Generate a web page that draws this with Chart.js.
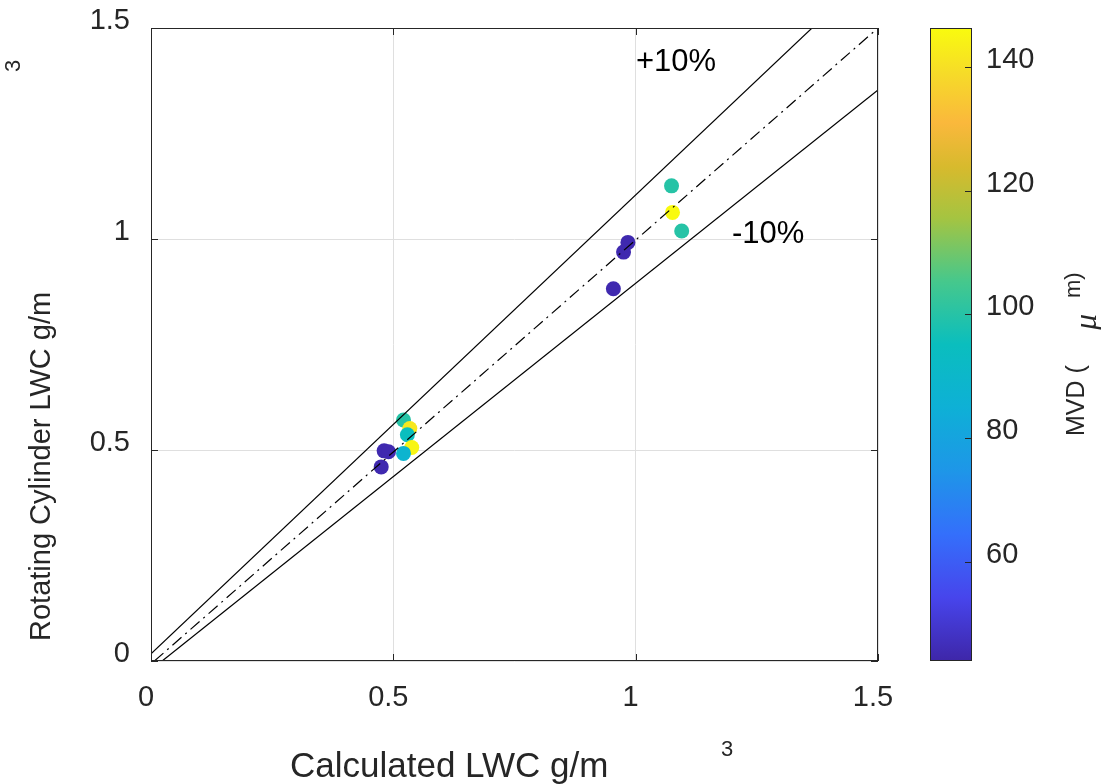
<!DOCTYPE html>
<html>
<head>
<meta charset="utf-8">
<script src="https://cdn.jsdelivr.net/npm/chart.js@4.4.0/dist/chart.umd.min.js"></script>
<style>
html, body { margin: 0; padding: 0; background: #fff; }
#wrap { width: 1101px; height: 784px; }
</style>
</head>
<body>
<div id="wrap"><canvas id="lwcChart" width="1101" height="784"></canvas></div>
<script>
const calcLwc = [0.475, 0.481, 0.490, 0.521, 0.534, 0.529, 0.538, 0.521,
                 0.954, 0.975, 0.984, 1.074, 1.076, 1.095];
const cylLwc  = [0.460, 0.498, 0.496, 0.571, 0.551, 0.536, 0.506, 0.492,
                 0.882, 0.969, 0.992, 1.126, 1.063, 1.019];
const mvd     = [45, 45, 45, 100, 142, 95, 145, 88,
                 45, 45, 45, 100, 146, 100];

// reference lines
const plusLineX  = [0, 1.5];
const plusLineY  = [0.017, 1.648];
const minusLineX = [0.023, 1.5];
const minusLineY = [0, 1.353];
const oneLineX   = [0.007, 1.5];
const oneLineY   = [0, 1.5];

const axisTicks = [0, 0.5, 1, 1.5];
const mvdTicks = [60, 80, 100, 120, 140];
const mvdMin = 44;
const mvdMax = 146.3;

// parula-ish colour stops
const parulaStops = [
    [0.00, 62, 38, 168],
    [0.10, 71, 69, 236],
    [0.20, 52, 111, 251],
    [0.30, 30, 150, 232],
    [0.40, 14, 176, 214],
    [0.50, 10, 190, 190],
    [0.60, 70, 200, 140],
    [0.70, 165, 196, 65],
    [0.78, 215, 186, 45],
    [0.85, 250, 184, 60],
    [0.93, 246, 220, 40],
    [1.00, 249, 251, 14]
];

Chart.defaults.font.family = '"Liberation Sans", Arial, sans-serif';
Chart.defaults.color = '#262626';

function parula(v) {
    let t = (v - mvdMin) / (mvdMax - mvdMin);
    t = Math.max(0, Math.min(1, t));
    for (let i = 1; i < parulaStops.length; i++) {
        const a = parulaStops[i - 1], b = parulaStops[i];
        if (t <= b[0]) {
            const f = (t - a[0]) / (b[0] - a[0]);
            const c = [1, 2, 3].map(k => Math.round(a[k] + (b[k] - a[k]) * f));
            return `rgb(${c[0]},${c[1]},${c[2]})`;
        }
    }
    return 'rgb(249,251,14)';
}

function toPoints(xs, ys) {
    return xs.map((x, i) => ({ x: x, y: ys[i] }));
}

function lineDataset(xs, ys, dash) {
    return {
        type: 'line',
        data: toPoints(xs, ys),
        showLine: true,
        borderColor: '#000',
        borderWidth: 1.2,
        borderDash: dash,
        pointRadius: 0,
        fill: false
    };
}

const keepTicks = (vals) => (scale) => {
    scale.ticks = vals.map(v => ({ value: v }));
};

// invisible tick marks are used as spacers (ticks.padding would also pad the chart area)
const spacerGrid = (len, onArea) => ({
    display: true,
    drawOnChartArea: onArea,
    color: '#dfdfdf',
    drawTicks: true,
    tickLength: len,
    tickColor: 'rgba(0,0,0,0)'
});

// box, inward ticks, colorbar and all the odd MATLAB-style labels
const decorations = {
    id: 'decorations',
    afterDraw(chart) {
        const ctx = chart.ctx;
        const a = chart.chartArea;
        const xs = chart.scales.x, ys = chart.scales.y, cb = chart.scales.cb;
        ctx.save();

        // axes box
        ctx.strokeStyle = '#262626';
        ctx.lineWidth = 1;
        ctx.strokeRect(a.left + 0.5, a.top + 0.5, a.right - a.left - 1, a.bottom - a.top - 1);

        // inward ticks
        ctx.beginPath();
        axisTicks.forEach(v => {
            const px = Math.round(xs.getPixelForValue(v)) + 0.5;
            ctx.moveTo(px, a.bottom); ctx.lineTo(px, a.bottom - 7);
            ctx.moveTo(px, a.top); ctx.lineTo(px, a.top + 7);
            const py = Math.round(ys.getPixelForValue(v)) + 0.5;
            ctx.moveTo(a.left, py); ctx.lineTo(a.left + 7, py);
            ctx.moveTo(a.right, py); ctx.lineTo(a.right - 7, py);
        });
        ctx.stroke();

        // colorbar
        const cbLeft = 930, cbRight = 972;
        const grad = ctx.createLinearGradient(0, a.bottom, 0, a.top);
        parulaStops.forEach(s => grad.addColorStop(s[0], `rgb(${s[1]},${s[2]},${s[3]})`));
        ctx.fillStyle = grad;
        ctx.fillRect(cbLeft, a.top, cbRight - cbLeft, a.bottom - a.top);
        ctx.strokeStyle = '#262626';
        ctx.strokeRect(cbLeft + 0.5, a.top + 0.5, cbRight - cbLeft - 1, a.bottom - a.top - 1);
        ctx.beginPath();
        mvdTicks.forEach(v => {
            const py = Math.round(cb.getPixelForValue(v)) + 0.5;
            ctx.moveTo(cbRight, py); ctx.lineTo(cbRight - 7, py);
        });
        ctx.stroke();

        ctx.fillStyle = '#000';
        ctx.textBaseline = 'alphabetic';
        ctx.textAlign = 'left';

        // annotations
        ctx.font = '31px "Liberation Sans", Arial, sans-serif';
        ctx.fillText('+10%', 636, 71);
        ctx.fillText('-10%', 732, 243);

        // x title
        ctx.fillStyle = '#262626';
        ctx.font = '35px "Liberation Sans", Arial, sans-serif';
        ctx.fillText('Calculated LWC g/m', 290, 777);
        ctx.font = '22px "Liberation Sans", Arial, sans-serif';
        ctx.fillText('3', 721, 756);

        // y title
        ctx.save();
        ctx.translate(50, 641);
        ctx.rotate(-Math.PI / 2);
        ctx.font = '29px "Liberation Sans", Arial, sans-serif';
        ctx.fillText('Rotating Cylinder LWC g/m', 0, 0);
        ctx.restore();
        ctx.save();
        ctx.translate(20, 72);
        ctx.rotate(-Math.PI / 2);
        ctx.font = '22px "Liberation Sans", Arial, sans-serif';
        ctx.fillText('3', 0, 0);
        ctx.restore();

        // colorbar title
        ctx.save();
        ctx.translate(1084, 436);
        ctx.rotate(-Math.PI / 2);
        ctx.font = '25px "Liberation Sans", Arial, sans-serif';
        ctx.fillText('MVD (', 0, 0);
        ctx.font = 'italic 32px "Liberation Serif", serif';
        ctx.fillText('\u03bc', 106, 12);
        ctx.font = '22px "Liberation Sans", Arial, sans-serif';
        ctx.fillText('m)', 138, -4);
        ctx.restore();

        ctx.restore();
    }
};

new Chart(document.getElementById('lwcChart'), {
    type: 'scatter',
    data: {
        datasets: [
            lineDataset(plusLineX, plusLineY, []),
            lineDataset(minusLineX, minusLineY, []),
            lineDataset(oneLineX, oneLineY, [12, 5, 2, 5]),
            {
                data: toPoints(calcLwc, cylLwc),
                backgroundColor: mvd.map(parula),
                borderWidth: 0,
                pointRadius: 7.5
            }
        ]
    },
    options: {
        responsive: false,
        animation: false,
        layout: { padding: { top: 28, left: 0, right: 0, bottom: 0 } },
        plugins: {
            legend: { display: false },
            tooltip: { enabled: false }
        },
        scales: {
            x: {
                type: 'linear',
                min: 0, max: 1.5,
                afterBuildTicks: keepTicks(axisTicks),
                afterFit: (s) => { s.height = 123; },
                grid: spacerGrid(20, true),
                border: { display: false },
                ticks: {
                    padding: 0,
                    labelOffset: -5,
                    font: { size: 29 },
                    color: '#262626',
                    maxRotation: 0,
                    callback: (v) => String(v)
                }
            },
            y: {
                type: 'linear',
                min: 0, max: 1.5,
                afterBuildTicks: keepTicks(axisTicks),
                afterFit: (s) => { s.width = 151; },
                grid: spacerGrid(21, true),
                border: { display: false },
                ticks: {
                    padding: 0,
                    labelOffset: -7,
                    font: { size: 29 },
                    color: '#262626',
                    callback: (v) => String(v)
                }
            },
            cb: {
                type: 'linear',
                position: 'right',
                min: mvdMin, max: mvdMax,
                afterBuildTicks: keepTicks(mvdTicks),
                afterFit: (s) => { s.width = 223; },
                grid: spacerGrid(108, false),
                border: { display: false },
                ticks: {
                    padding: 0,
                    labelOffset: -7,
                    font: { size: 29 },
                    color: '#262626',
                    callback: (v) => String(v)
                }
            }
        }
    },
    plugins: [decorations]
});
</script>
</body>
</html>
